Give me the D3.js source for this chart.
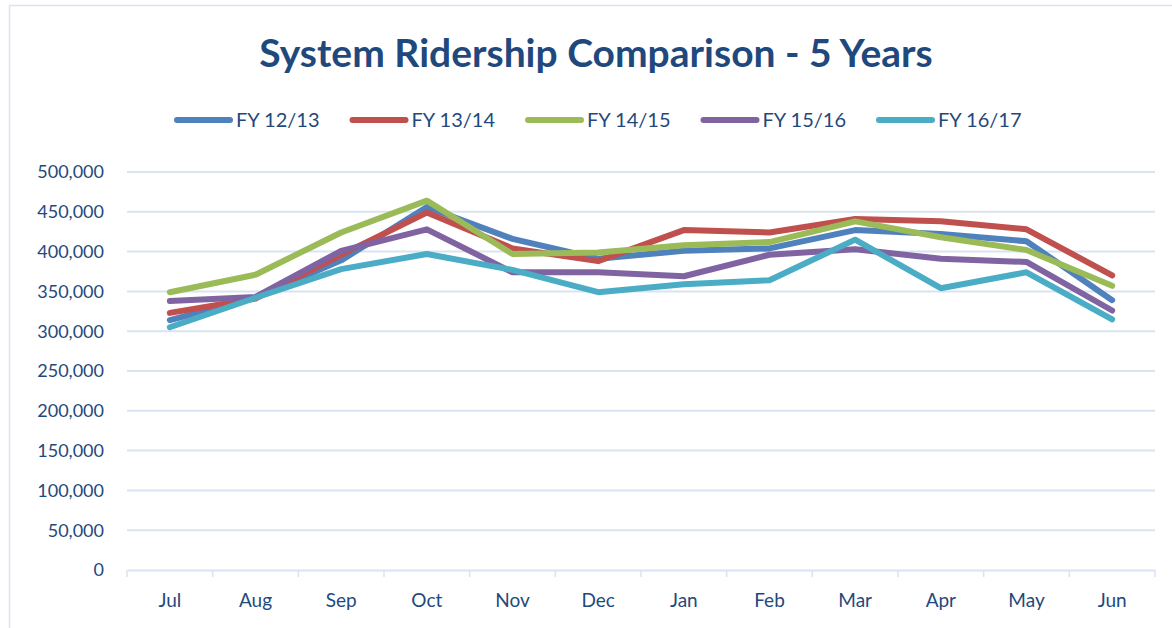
<!DOCTYPE html>
<html>
<head>
<meta charset="utf-8">
<script src="https://cdn.jsdelivr.net/npm/d3@7"></script>
<style>
  body { margin: 0; background: #fff; }
  svg { display: block; font-family: Lato, "Open Sans", sans-serif; }
</style>
</head>
<body>
<div id="chart"></div>
<script>
// Chart data
var months = ["Jul", "Aug", "Sep", "Oct", "Nov", "Dec", "Jan", "Feb", "Mar", "Apr", "May", "Jun"]
var seriesNames = ["FY 12/13", "FY 13/14", "FY 14/15", "FY 15/16", "FY 16/17"]
var fy1213 = [314000, 342000, 389000, 456000, 416000, 391000, 401000, 404000, 427000, 422000, 413000, 339000]
var fy1314 = [323000, 341000, 396000, 449000, 404000, 388000, 427000, 424000, 441000, 438000, 428000, 370000]
var fy1415 = [349000, 371000, 424000, 464000, 397000, 399000, 408000, 412000, 438000, 418000, 402000, 357000]
var fy1516 = [338000, 343000, 401000, 428000, 374000, 374000, 369000, 396000, 403000, 391000, 387000, 326000]
var fy1617 = [305000, 342000, 378000, 397000, 377000, 349000, 359000, 364000, 415000, 354000, 374000, 315000]
var yTicks = [0, 50000, 100000, 150000, 200000, 250000, 300000, 350000, 400000, 450000, 500000]

function drawChart () {
    var allSeries = [fy1213, fy1314, fy1415, fy1516, fy1617]
    var color = ["#4F81BD", "#C0504D", "#9BBB59", "#8064A2", "#4BACC6"]
    var textColor = "#1F497D"
    var gridColor = "#D9E3F1"

    var width = 1172
    var height = 628
    var plotLeft = 127, plotRight = 1155, plotTop = 172, plotBottom = 570

    var svg = d3.select('#chart')
        .append('svg')
        .attr('width', width)
        .attr('height', height)

    // Chart border
    svg.append('rect')
        .attr('x', 9.5)
        .attr('y', 5.5)
        .attr('width', 1180)
        .attr('height', 640)
        .attr('fill', 'none')
        .attr('stroke', '#D9E3F1')
        .attr('stroke-width', 1.5)

    // Title
    svg.append('text')
        .attr('x', 596)
        .attr('y', 67)
        .attr('text-anchor', 'middle')
        .attr('fill', textColor)
        .style('font-size', '39px')
        .style('font-weight', 'bold')
        .text("System Ridership Comparison - 5 Years")

    var xScale = d3.scaleBand()
        .domain(months)
        .range([plotLeft, plotRight])

    var yScale = d3.scaleLinear()
        .domain([0, 500000])
        .range([plotBottom, plotTop])

    // Gridlines
    svg.append('g')
        .selectAll('line')
        .data(yTicks.slice(1))
        .join('line')
        .attr('x1', plotLeft)
        .attr('x2', plotRight)
        .attr('y1', d => yScale(d))
        .attr('y2', d => yScale(d))
        .attr('stroke', gridColor)
        .attr('stroke-width', 2)

    // Y axis labels
    svg.append('g')
        .selectAll('text')
        .data(yTicks)
        .join('text')
        .attr('x', 104)
        .attr('y', d => yScale(d))
        .attr('dy', '0.35em')
        .attr('text-anchor', 'end')
        .attr('fill', textColor)
        .style('font-size', '18px')
        .text(d => d3.format(',')(d))

    // X axis
    var xAxis = d3.axisBottom(xScale).tickSize(0).tickPadding(24)
    var xg = svg.append('g')
        .attr('transform', 'translate(0,' + plotBottom + ')')
        .call(xAxis)
    xg.select('.domain').attr('stroke', gridColor).attr('stroke-width', 2)
    xg.selectAll('text')
        .attr('fill', textColor)
        .style('font-size', '19px')
        .style('font-family', 'Lato, "Open Sans", sans-serif')

    // Tick marks at band edges
    svg.append('g')
        .selectAll('line')
        .data(months.concat(['end']))
        .join('line')
        .attr('x1', (d, i) => plotLeft + i * xScale.bandwidth())
        .attr('x2', (d, i) => plotLeft + i * xScale.bandwidth())
        .attr('y1', plotBottom)
        .attr('y2', plotBottom + 7)
        .attr('stroke', gridColor)
        .attr('stroke-width', 1.5)

    // Lines
    var line = d3.line()
        .x((d, i) => xScale(months[i]) + xScale.bandwidth() / 2)
        .y(d => yScale(d))

    svg.append('g')
        .selectAll('path')
        .data(allSeries)
        .join('path')
        .attr('d', d => line(d))
        .attr('fill', 'none')
        .attr('stroke', (d, i) => color[i])
        .attr('stroke-width', 6)
        .attr('stroke-linecap', 'round')
        .attr('stroke-linejoin', 'round')

    // Legend
    var legend = svg.append('g')
        .attr('transform', 'translate(177, 120)')

    seriesNames.forEach((s, v) => {
        var row = legend.append('g')
            .attr('transform', `translate(${v * 175.5}, 0)`)
        row.append('line')
            .attr('x1', 0)
            .attr('x2', 53)
            .attr('stroke', color[v])
            .attr('stroke-width', 6)
            .attr('stroke-linecap', 'round')
        row.append('text')
            .attr('x', 59)
            .attr('dy', '0.35em')
            .attr('fill', textColor)
            .style('font-size', '20px')
            .text(s)
    })
}

drawChart()
</script>
</body>
</html>
